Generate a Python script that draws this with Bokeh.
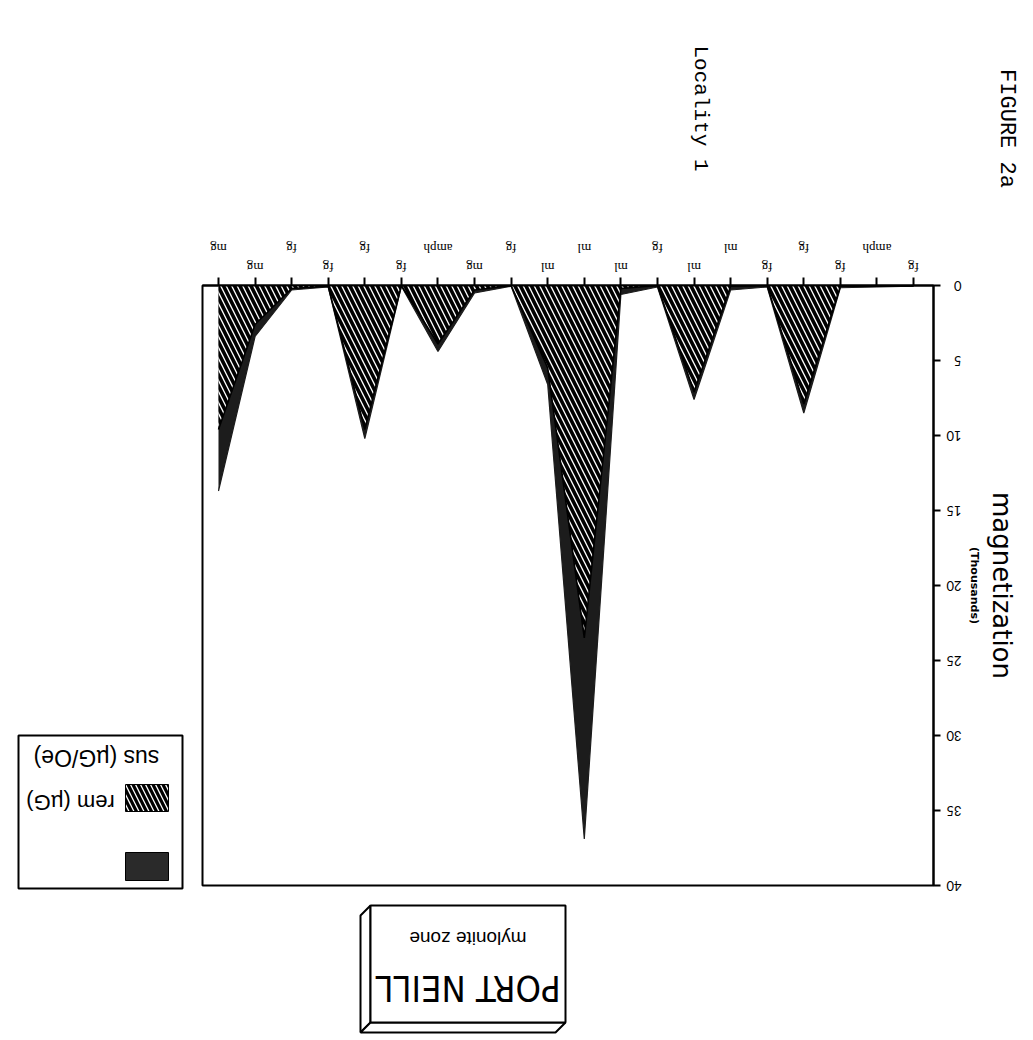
import math
from bokeh.plotting import figure
from bokeh.layouts import column, row
from bokeh.models import (Range1d, LinearAxis, FixedTicker, Label, LabelSet, BoxAnnotation,
                          PolyAnnotation, ColumnDataSource)
from bokeh.embed import file_html
from bokeh.resources import INLINE

# ---------------- data ----------------
categories = ["mg", "mg", "fg", "fg", "fg", "fg", "amph", "mg", "fg", "ml",
              "ml", "ml", "fg", "ml", "ml", "fg", "fg", "fg", "amph", "fg"]
sus = [9.6, 2.6, 0.2, 0.05, 9.6, 0.0, 3.9, 0.3, 0.0, 5.5,
       23.5, 0.2, 0.0, 7.1, 0.05, 0.0, 7.9, 0.05, 0.05, 0.03]
rem = [13.7, 3.4, 0.3, 0.1, 10.2, 0.05, 4.4, 0.5, 0.05, 6.6,
       36.9, 0.6, 0.1, 7.6, 0.3, 0.1, 8.5, 0.15, 0.1, 0.05]
mag_ticks = [0, 5, 10, 15, 20, 25, 30, 35, 40]
positions = list(range(len(categories)))

# ---------------- page geometry ----------------
W, H = 1033, 1040
FL, FR, FT, FB = 202, 933, 285, 885     # chart frame on the page
TOP_H = 275                             # height of the strip above the chart
MID_X0 = 198                            # left edge of the chart canvas
MID_Y1 = 896                            # bottom edge of the chart canvas
XL, XR = -0.437, 19.546                 # category range across the frame
PX = (FR - FL) / (XR - XL)              # pixels per category step

BG = "white"


def no_align(f):
    try:
        f.frame_align = False
    except Exception:
        pass


def blank(width, height, x_range=None):
    f = figure(width=width, height=height, output_backend="svg", toolbar_location=None,
               x_range=x_range if x_range is not None else Range1d(0, width),
               y_range=Range1d(0, height),
               x_axis_location=None, y_axis_location=None,
               min_border_left=0, min_border_right=0, min_border_top=0, min_border_bottom=0)
    f.outline_line_color = None
    f.background_fill_color = BG
    f.border_fill_color = BG
    f.xgrid.visible = False
    f.ygrid.visible = False
    f.margin = (0, 0, 0, 0)
    no_align(f)
    return f


def add_text(f, txt, x, y, size, font, angle, weight="normal"):
    f.add_layout(Label(x=x, y=y, x_units="screen", y_units="screen", text=txt,
                       text_font=font, text_font_size=size, text_font_style=weight,
                       text_color="black", text_align="center", text_baseline="middle",
                       angle=angle))


def add_box(f, x0, x1, y0, y1, **kw):
    f.add_layout(BoxAnnotation(left=x0, right=x1, top=y0, bottom=y1,
                               left_units="screen", right_units="screen",
                               top_units="screen", bottom_units="screen",
                               fill_alpha=1, line_alpha=1, **kw))


lab_font = "Lato"

# ---------------- top strip: titles + category labels ----------------
top = blank(W, TOP_H, x_range=Range1d(XL - FL / PX, XL + (W - FL) / PX))
ty = lambda y: TOP_H - y
add_text(top, "Locality 1", 700, ty(108), "21px", "Liberation Mono", -math.pi / 2)
add_text(top, "FIGURE 2a", 1006, ty(128), "22px", "Liberation Mono", -math.pi / 2)
row_y = [ty(248) if i % 2 == 0 else ty(267) for i in positions]
cat_src = ColumnDataSource(dict(x=positions, y=row_y, text=categories))
top.add_layout(LabelSet(x="x", y="y", text="text", source=cat_src, x_units="data", y_units="screen",
                        angle=math.pi, text_align="center", text_baseline="middle",
                        text_font=lab_font, text_font_size="13px", text_color="black"))

# ---------------- main chart ----------------
p = figure(width=W - MID_X0, height=MID_Y1 - TOP_H, output_backend="svg", toolbar_location=None,
           x_range=Range1d(XL, XR), y_range=Range1d(40, 0),
           x_axis_location=None, y_axis_location=None,
           min_border_left=FL - MID_X0, min_border_right=W - FR,
           min_border_top=FT - TOP_H, min_border_bottom=MID_Y1 - FB)
p.margin = (0, 0, 0, 0)
no_align(p)
p.background_fill_color = BG
p.border_fill_color = BG
p.outline_line_color = "black"
p.outline_line_width = 2
p.xgrid.visible = False
p.ygrid.visible = False

src = ColumnDataSource(dict(x=positions, sus=sus, rem=rem, zero=[0] * len(positions)))
p.varea(x="x", y1="zero", y2="rem", source=src, fill_color="#1c1c1c")
p.line(x="x", y="rem", source=src, line_color="#1c1c1c", line_width=1.2)
p.varea(x="x", y1="zero", y2="sus", source=src, fill_color="white",
        hatch_pattern="left_diagonal_line", hatch_color="black",
        hatch_scale=11, hatch_weight=3.6)
p.line(x="x", y="sus", source=src, line_color="black", line_width=1.6)

ax_top = LinearAxis(ticker=FixedTicker(ticks=positions),
                    major_label_overrides={i: "" for i in positions})
ax_top.major_tick_in = 0
ax_top.major_tick_out = 8
ax_top.axis_line_width = 2
ax_top.major_tick_line_width = 2
ax_top.minor_tick_line_color = None
ax_top.major_label_standoff = 0
ax_top.major_label_text_font_size = "1px"
p.add_layout(ax_top, "above")

ax_r = LinearAxis(ticker=FixedTicker(ticks=mag_ticks))
ax_r.major_tick_in = 0
ax_r.major_tick_out = 7
ax_r.axis_line_width = 2
ax_r.major_tick_line_width = 2
ax_r.minor_tick_line_color = None
ax_r.major_label_orientation = math.pi
ax_r.major_label_standoff = 21
ax_r.major_label_text_font = lab_font
ax_r.major_label_text_font_size = "13px"
ax_r.major_label_text_color = "black"
p.add_layout(ax_r, "right")

ax_th = LinearAxis(ticker=FixedTicker(ticks=[]))
ax_th.axis_line_color = None
ax_th.major_tick_line_color = None
ax_th.minor_tick_line_color = None
ax_th.axis_label = "(Thousands)"
ax_th.axis_label_standoff = -12
ax_th.axis_label_text_font = "DejaVu Sans"
ax_th.axis_label_text_font_size = "11px"
ax_th.axis_label_text_font_style = "bold"
ax_th.axis_label_text_color = "black"
p.add_layout(ax_th, "right")

ax_mag = LinearAxis(ticker=FixedTicker(ticks=[]))
ax_mag.axis_line_color = None
ax_mag.major_tick_line_color = None
ax_mag.minor_tick_line_color = None
ax_mag.axis_label = "magnetization"
ax_mag.axis_label_standoff = 3
ax_mag.axis_label_text_font = "DejaVu Sans"
ax_mag.axis_label_text_font_size = "26px"
ax_mag.axis_label_text_font_style = "normal"
ax_mag.axis_label_text_color = "black"
p.add_layout(ax_mag, "right")

# ---------------- left strip: legend (upside down) ----------------
left = blank(MID_X0, MID_Y1 - TOP_H)
ly = lambda y: MID_Y1 - y
add_box(left, 18, 182, ly(735), ly(888), fill_color="white", line_color="black", line_width=2)
add_box(left, 125, 168, ly(784), ly(811), fill_color="white", line_color="black", line_width=1,
        hatch_pattern="left_diagonal_line", hatch_color="black", hatch_scale=10, hatch_weight=3.2)
add_box(left, 125, 168, ly(852), ly(880), fill_color="#2a2a2a", line_color="black", line_width=1)
add_text(left, "sus (\u00b5G/Oe)", 96, ly(757), "23px", "Liberation Sans", math.pi)
add_text(left, "rem (\u00b5G)", 70, ly(802), "22px", "Liberation Sans", math.pi)

# ---------------- bottom strip: PORT NEILL box ----------------
bot = blank(W, H - MID_Y1)
by = lambda y: H - y
bx0, bx1, by0, by1, bev = 370, 565, 905, 1022, 10
bot.add_layout(PolyAnnotation(xs=[bx0 - bev, bx0, bx0, bx0 - bev],
                              ys=[by(by0 + bev), by(by0), by(by1), by(by1 + bev)],
                              xs_units="screen", ys_units="screen",
                              fill_color="white", fill_alpha=1, line_color="black",
                              line_alpha=1, line_width=2))
bot.add_layout(PolyAnnotation(xs=[bx0 - bev, bx0, bx1, bx1 - bev],
                              ys=[by(by1 + bev), by(by1), by(by1), by(by1 + bev)],
                              xs_units="screen", ys_units="screen",
                              fill_color="white", fill_alpha=1, line_color="black",
                              line_alpha=1, line_width=2))
add_box(bot, bx0, bx1, by(by0), by(by1), fill_color="white", line_color="black", line_width=2)
add_text(bot, "mylonite zone", (bx0 + bx1) / 2, by(938), "19px", "Liberation Sans", math.pi)
add_text(bot, "PORT NEILL", (bx0 + bx1) / 2, by(988), "36px", "DejaVu Sans Condensed", math.pi)

layout = column(top, row(left, p, spacing=0), bot, spacing=0)
open("out.html", "w").write(file_html(layout, INLINE))
